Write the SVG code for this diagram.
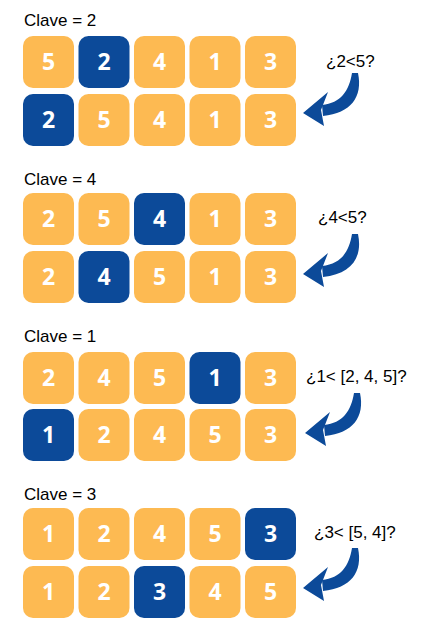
<svg xmlns="http://www.w3.org/2000/svg" width="430" height="620" viewBox="0 0 430 620">
<style>
.o{fill:#FDBA52}
.b{fill:#0C4A99}
.n{font-family:"Open Sans","Liberation Sans",sans-serif;font-weight:700;font-size:23px;fill:#fff;text-anchor:middle}
.k{font-family:"Liberation Sans",sans-serif;font-size:17px;fill:#000}
.q{font-family:"Liberation Sans",sans-serif;font-size:17px;fill:#000}
.a{fill:#0C4A99}
</style>
<defs>
<g id="arr">
<path class="a" d="M3,0 C8,24 -4,40 -32,43 L-33,32 C-14,30 -6,18 -3,0 Z"/>
<path class="a" d="M-52,40 L-27,19 L-34,37 L-31,53 Z"/>
</g>
</defs>
<rect width="430" height="620" fill="#fff"/>
<g id="labels">
<text class="k" x="24" y="26">Clave = 2</text>
<text class="k" x="24" y="185">Clave = 4</text>
<text class="k" x="24" y="342">Clave = 1</text>
<text class="k" x="24" y="500">Clave = 3</text>
<text class="q" x="326" y="67">¿2&lt;5?</text>
<text class="q" x="318" y="223">¿4&lt;5?</text>
<text class="q" x="306" y="382">¿1&lt; [2, 4, 5]?</text>
<text class="q" x="314" y="538">¿3&lt; [5, 4]?</text>
</g>
<g id="g1r1">
<rect class="o" x="23" y="36" width="51" height="52" rx="10"/><text class="n" x="48.5" y="70">5</text>
<rect class="b" x="78.5" y="36" width="51" height="52" rx="10"/><text class="n" x="104" y="70">2</text>
<rect class="o" x="134" y="36" width="51" height="52" rx="10"/><text class="n" x="159.5" y="70">4</text>
<rect class="o" x="189.5" y="36" width="51" height="52" rx="10"/><text class="n" x="215" y="70">1</text>
<rect class="o" x="245" y="36" width="51" height="52" rx="10"/><text class="n" x="270.5" y="70">3</text>
</g>
<g id="g1r2">
<rect class="b" x="23" y="94" width="51" height="52" rx="10"/><text class="n" x="48.5" y="128">2</text>
<rect class="o" x="78.5" y="94" width="51" height="52" rx="10"/><text class="n" x="104" y="128">5</text>
<rect class="o" x="134" y="94" width="51" height="52" rx="10"/><text class="n" x="159.5" y="128">4</text>
<rect class="o" x="189.5" y="94" width="51" height="52" rx="10"/><text class="n" x="215" y="128">1</text>
<rect class="o" x="245" y="94" width="51" height="52" rx="10"/><text class="n" x="270.5" y="128">3</text>
</g>
<g id="g2r1">
<rect class="o" x="23" y="193" width="51" height="52" rx="10"/><text class="n" x="48.5" y="227">2</text>
<rect class="o" x="78.5" y="193" width="51" height="52" rx="10"/><text class="n" x="104" y="227">5</text>
<rect class="b" x="134" y="193" width="51" height="52" rx="10"/><text class="n" x="159.5" y="227">4</text>
<rect class="o" x="189.5" y="193" width="51" height="52" rx="10"/><text class="n" x="215" y="227">1</text>
<rect class="o" x="245" y="193" width="51" height="52" rx="10"/><text class="n" x="270.5" y="227">3</text>
</g>
<g id="g2r2">
<rect class="o" x="23" y="251" width="51" height="52" rx="10"/><text class="n" x="48.5" y="285">2</text>
<rect class="b" x="78.5" y="251" width="51" height="52" rx="10"/><text class="n" x="104" y="285">4</text>
<rect class="o" x="134" y="251" width="51" height="52" rx="10"/><text class="n" x="159.5" y="285">5</text>
<rect class="o" x="189.5" y="251" width="51" height="52" rx="10"/><text class="n" x="215" y="285">1</text>
<rect class="o" x="245" y="251" width="51" height="52" rx="10"/><text class="n" x="270.5" y="285">3</text>
</g>
<g id="g3r1">
<rect class="o" x="23" y="352" width="51" height="52" rx="10"/><text class="n" x="48.5" y="386">2</text>
<rect class="o" x="78.5" y="352" width="51" height="52" rx="10"/><text class="n" x="104" y="386">4</text>
<rect class="o" x="134" y="352" width="51" height="52" rx="10"/><text class="n" x="159.5" y="386">5</text>
<rect class="b" x="189.5" y="352" width="51" height="52" rx="10"/><text class="n" x="215" y="386">1</text>
<rect class="o" x="245" y="352" width="51" height="52" rx="10"/><text class="n" x="270.5" y="386">3</text>
</g>
<g id="g3r2">
<rect class="b" x="23" y="409" width="51" height="52" rx="10"/><text class="n" x="48.5" y="443">1</text>
<rect class="o" x="78.5" y="409" width="51" height="52" rx="10"/><text class="n" x="104" y="443">2</text>
<rect class="o" x="134" y="409" width="51" height="52" rx="10"/><text class="n" x="159.5" y="443">4</text>
<rect class="o" x="189.5" y="409" width="51" height="52" rx="10"/><text class="n" x="215" y="443">5</text>
<rect class="o" x="245" y="409" width="51" height="52" rx="10"/><text class="n" x="270.5" y="443">3</text>
</g>
<g id="g4r1">
<rect class="o" x="23" y="508" width="51" height="52" rx="10"/><text class="n" x="48.5" y="542">1</text>
<rect class="o" x="78.5" y="508" width="51" height="52" rx="10"/><text class="n" x="104" y="542">2</text>
<rect class="o" x="134" y="508" width="51" height="52" rx="10"/><text class="n" x="159.5" y="542">4</text>
<rect class="o" x="189.5" y="508" width="51" height="52" rx="10"/><text class="n" x="215" y="542">5</text>
<rect class="b" x="245" y="508" width="51" height="52" rx="10"/><text class="n" x="270.5" y="542">3</text>
</g>
<g id="g4r2">
<rect class="o" x="23" y="566" width="51" height="52" rx="10"/><text class="n" x="48.5" y="600">1</text>
<rect class="o" x="78.5" y="566" width="51" height="52" rx="10"/><text class="n" x="104" y="600">2</text>
<rect class="b" x="134" y="566" width="51" height="52" rx="10"/><text class="n" x="159.5" y="600">3</text>
<rect class="o" x="189.5" y="566" width="51" height="52" rx="10"/><text class="n" x="215" y="600">4</text>
<rect class="o" x="245" y="566" width="51" height="52" rx="10"/><text class="n" x="270.5" y="600">5</text>
</g>
<g id="connectors">
<use href="#arr" transform="translate(355,73)"/>
<use href="#arr" transform="translate(355,234)"/>
<use href="#arr" transform="translate(357,393)"/>
<use href="#arr" transform="translate(355,548)"/>
</g>
</svg>
